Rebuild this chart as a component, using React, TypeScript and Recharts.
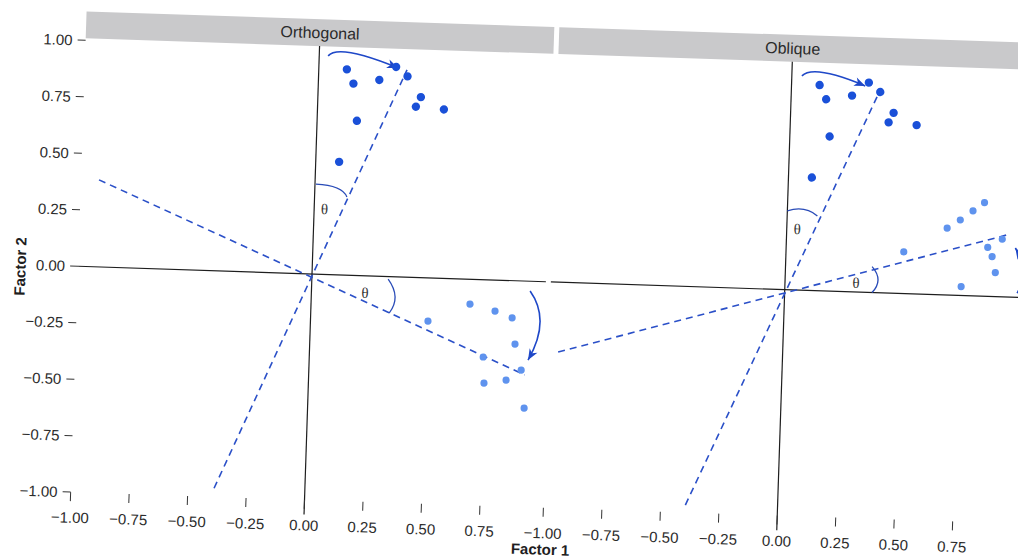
import React from "react";
import { ScatterChart, Scatter, XAxis, YAxis, ReferenceLine, ReferenceArea } from "recharts";

// loadings before rotation (same in both panels)
const loadings = [
  { x: 0.12, y: 0.91 },
  { x: 0.15, y: 0.848 },
  { x: 0.26, y: 0.868 },
  { x: 0.33, y: 0.928 },
  { x: 0.38, y: 0.888 },
  { x: 0.44, y: 0.798 },
  { x: 0.42, y: 0.755 },
  { x: 0.54, y: 0.747 },
  { x: 0.17, y: 0.684 },
  { x: 0.1, y: 0.5 },
];

// loadings after orthogonal rotation
const orthoRotated = [
  { x: 0.679, y: -0.11 },
  { x: 0.787, y: -0.137 },
  { x: 0.861, y: -0.165 },
  { x: 0.502, y: -0.191 },
  { x: 0.877, y: -0.28 },
  { x: 0.743, y: -0.342 },
  { x: 0.907, y: -0.394 },
  { x: 0.75, y: -0.457 },
  { x: 0.844, y: -0.441 },
  { x: 0.925, y: -0.562 },
];

// loadings after oblique rotation
const obliqueRotated = [
  { x: 0.841, y: 0.414 },
  { x: 0.793, y: 0.376 },
  { x: 0.74, y: 0.334 },
  { x: 0.685, y: 0.296 },
  { x: 0.503, y: 0.185 },
  { x: 0.922, y: 0.255 },
  { x: 0.861, y: 0.217 },
  { x: 0.881, y: 0.177 },
  { x: 0.897, y: 0.106 },
  { x: 0.753, y: 0.039 },
];

// rotated axes (dashed)
const orthoAxes = [
  [{ x: -0.388, y: -0.962 }, { x: 0.377, y: 0.917 }],
  [{ x: -0.923, y: 0.385 }, { x: 0.923, y: -0.415 }],
];
const obliqueAxes = [
  [{ x: -0.394, y: -0.967 }, { x: 0.38, y: 0.898 }],
  [{ x: -0.959, y: -0.309 }, { x: 0.939, y: 0.274 }],
];

// curved arrows: start, middle, tip
const orthoArrows = [
  [{ x: 0.038, y: 0.967 }, { x: 0.135, y: 0.984 }, { x: 0.338, y: 0.924 }],
  [{ x: 0.934, y: -0.043 }, { x: 0.981, y: -0.183 }, { x: 0.935, y: -0.349 }],
];
const obliqueArrows = [
  [{ x: 0.043, y: 0.948 }, { x: 0.135, y: 0.966 }, { x: 0.315, y: 0.913 }],
  [{ x: 0.993, y: 0.019 }, { x: 1.015, y: 0.12 }, { x: 0.979, y: 0.218 }],
];

// theta arcs
const orthoArcs = [
  [{ x: 0.004, y: 0.398 }, { x: 0.094, y: 0.384 }, { x: 0.138, y: 0.346 }],
  [{ x: 0.326, y: -0.012 }, { x: 0.358, y: -0.089 }, { x: 0.335, y: -0.162 }],
];
const obliqueArcs = [
  [{ x: 0.0, y: 0.349 }, { x: 0.069, y: 0.358 }, { x: 0.129, y: 0.331 }],
  [{ x: 0.37, y: 0.115 }, { x: 0.397, y: 0.057 }, { x: 0.373, y: 0.0 }],
];

const orthoTheta = [{ x: 0.044, y: 0.289 }, { x: 0.229, y: -0.076 }];
const obliqueTheta = [{ x: 0.045, y: 0.27 }, { x: 0.303, y: 0.04 }];

const xTicks = [-1, -0.75, -0.5, -0.25, 0, 0.25, 0.5, 0.75];
const yTicks = [-1, -0.75, -0.5, -0.25, 0, 0.25, 0.5, 0.75, 1];

const fmt = (v: number) => (v < 0 ? "\u2212" : "") + Math.abs(v).toFixed(2);

const curvePath = (pts: any[]) => {
  const [a, m, b] = pts;
  const c = { x: 2 * m.x - (a.x + b.x) / 2, y: 2 * m.y - (a.y + b.y) / 2 };
  return { d: `M${a.x},${a.y} Q${c.x},${c.y} ${b.x},${b.y}`, c, b };
};

const arrowLine = (color: string) => (props: any) => {
  const { d, c, b } = curvePath(props.points);
  const len = Math.hypot(b.x - c.x, b.y - c.y) || 1;
  const ux = (b.x - c.x) / len;
  const uy = (b.y - c.y) / len;
  const L = 11;
  const W = 4.5;
  const bx = b.x - ux * L;
  const by = b.y - uy * L;
  const head = `M${b.x},${b.y} L${bx - uy * W},${by + ux * W} L${b.x - ux * (L - 3)},${b.y - uy * (L - 3)} L${bx + uy * W},${by - ux * W} Z`;
  return (
    <g>
      <path d={d} fill="none" stroke={color} strokeWidth={1.6} />
      <path d={head} fill={color} />
    </g>
  );
};

const arcLine = (color: string) => (props: any) => (
  <path d={curvePath(props.points).d} fill="none" stroke={color} strokeWidth={1.3} />
);

const dot = (color: string, r: number) => (p: any) => <circle cx={p.cx} cy={p.cy} r={r} fill={color} />;
const nothing = () => <g />;
const thetaText = (p: any) => (
  <text x={p.cx} y={p.cy} textAnchor="middle" dominantBaseline="central"
    fontFamily='"Liberation Serif", "DejaVu Serif", serif' fontSize={15} fill="#333">θ</text>
);

type PanelProps = {
  title: string;
  rotated: { x: number; y: number }[];
  axes: { x: number; y: number }[][];
  arrows: { x: number; y: number }[][];
  arcs: { x: number; y: number }[][];
  thetas: { x: number; y: number }[];
  showY: boolean;
  width: number;
  margin: { top: number; right: number; bottom: number; left: number };
};

function Panel({ title, rotated, axes, arrows, arcs, thetas, showY, width, margin }: PanelProps) {
  return (
    <ScatterChart width={width} height={558} margin={margin}>
      <XAxis type="number" dataKey="x" domain={[-1, 1]} allowDataOverflow ticks={xTicks} interval={0}
        tickFormatter={fmt} axisLine={false} tickSize={9} tickMargin={11} height={40}
        tickLine={{ stroke: "#333" }} tick={{ fill: "#2b2b2b", fontSize: 15 }} />
      <YAxis type="number" dataKey="y" domain={[-1, 1]} allowDataOverflow ticks={yTicks} interval={0}
        tickFormatter={fmt} axisLine={false} tickSize={8} tickMargin={5} width={40} hide={!showY}
        tickLine={{ stroke: "#333" }} tick={{ fill: "#2b2b2b", fontSize: 15 }} />
      <ReferenceArea x1={-1} x2={1} y1={1.009} y2={1.128} ifOverflow="visible" fill="#c9c9cb"
        fillOpacity={1} stroke="none"
        label={{ value: title, position: "center", fill: "#2a2a2a", fontSize: 16 }} />
      <ReferenceLine y={0} stroke="#1e1e1e" strokeWidth={1.2} ifOverflow="visible" />
      <ReferenceLine segment={[{ x: 0, y: -1.065 }, { x: 0, y: 1.009 }]} stroke="#1e1e1e"
        strokeWidth={1.2} ifOverflow="visible" />
      {axes.map((seg, i) => (
        <ReferenceLine key={`ax-${i}`} segment={seg} stroke="#2b50c8" strokeWidth={1.6}
          strokeDasharray="7 5" ifOverflow="visible" />
      ))}
      {arcs.map((pts, i) => (
        <Scatter key={`arc-${i}`} data={pts} line={arcLine("#2a4cb8")} shape={nothing} isAnimationActive={false} />
      ))}
      {arrows.map((pts, i) => (
        <Scatter key={`arr-${i}`} data={pts} line={arrowLine("#1f48c8")} shape={nothing} isAnimationActive={false} />
      ))}
      <Scatter data={loadings} shape={dot("#1a50d8", 4.2)} isAnimationActive={false} />
      <Scatter data={rotated} shape={dot("#5f93ee", 3.6)} isAnimationActive={false} />
      <Scatter data={thetas} shape={thetaText} isAnimationActive={false} />
    </ScatterChart>
  );
}

export default function App() {
  return (
    <div style={{ position: "absolute", left: 0, top: 0, width: 1018, height: 558, overflow: "hidden",
      background: "#fff", fontFamily: '"Liberation Sans", Arial, sans-serif' }}>
      <div style={{ position: "absolute", left: 0, top: 0, width: 1018, height: 558,
        transform: "rotate(1.9deg)", transformOrigin: "312px 274px" }}>
        <div style={{ position: "absolute", left: 0, top: 0 }}>
          <Panel title="Orthogonal" rotated={orthoRotated} axes={orthoAxes} arrows={orthoArrows}
            arcs={orthoArcs} thetas={orthoTheta} showY width={560}
            margin={{ top: 48, right: 14, bottom: 18, left: 38 }} />
        </div>
        <div style={{ position: "absolute", left: 511, top: 0 }}>
          <Panel title="Oblique" rotated={obliqueRotated} axes={obliqueAxes} arrows={obliqueArrows}
            arcs={obliqueArcs} thetas={obliqueTheta} showY={false} width={520}
            margin={{ top: 48, right: 12, bottom: 18, left: 40 }} />
        </div>
        <svg width={1018} height={558} style={{ position: "absolute", left: 0, top: 0, pointerEvents: "none" }}>
          <text x={549} y={547} textAnchor="middle" fontWeight="bold" fontSize={15} fill="#1e1e1e">Factor 1</text>
          <text x={20} y={276} textAnchor="middle" dominantBaseline="central" fontWeight="bold" fontSize={15}
            fill="#1e1e1e" transform="rotate(-90 20 276)">Factor 2</text>
        </svg>
      </div>
    </div>
  );
}
